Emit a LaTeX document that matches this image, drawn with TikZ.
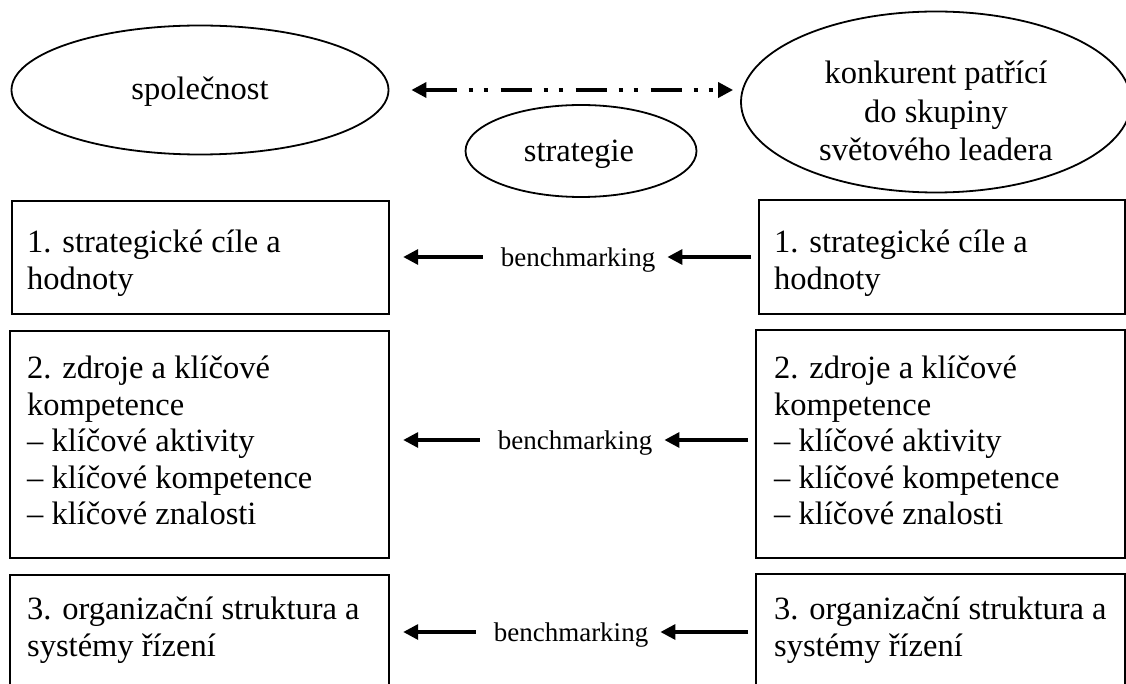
\documentclass[tikz,border=0pt]{standalone}
\usepackage{fontspec}
\setmainfont{Liberation Serif}
\usetikzlibrary{arrows.meta,shapes.geometric}
\begin{document}
\begin{tikzpicture}[x=1pt,y=-1pt,
  ell/.style={draw, ellipse, line width=1.8pt, inner sep=0pt},
  box/.style={draw, rectangle, line width=2.2pt, inner sep=0pt, anchor=north west},
  txt/.style={anchor=north west, inner sep=0pt, align=left, font=\fontsize{32.5}{36.5}\selectfont},
  etxt/.style={inner sep=0pt, align=center, font=\fontsize{32.5}{38.5}\selectfont},
  bm/.style={inner sep=0pt, text depth=0pt, font=\fontsize{27}{30}\selectfont},
  barrow/.style={line width=3.3pt, -{Triangle[length=15pt,width=15pt]}},
  leftarrow/.style={barrow, shorten <=18pt, shorten >=13pt},
  rightarrow/.style={barrow, shorten <=7pt, shorten >=12pt},
  dd/.style={line width=3.5pt, {Triangle[length=15pt,width=15pt]}-{Triangle[length=15pt,width=15pt]},
    dash pattern=on 31pt off 12pt on 4pt off 11pt on 4pt off 13pt}
]
\useasboundingbox (0,0) rectangle (1126,684);
\clip (0,0) rectangle (1126,684);

% ellipses
\node[ell, minimum width=377pt, minimum height=129pt] (L0) at (200,90) {};
\node[etxt, anchor=base] (L0t) at (200,100) {společnost};
\node[ell, minimum width=231pt, minimum height=92pt] (S0) at (581,151) {};
\node[etxt, anchor=base] (S0t) at (579,162) {strategie};
\node[ell, minimum width=390pt, minimum height=181pt] (R0) at (936,102) {};
\node[etxt, anchor=north] (R0t) at (936,61) {konkurent patřící\\do skupiny\\světového leadera};

\draw[dd, shorten <=22pt, shorten >=7pt] (L0.east) -- (L0.east -| R0.west);

% boxes
\node[box, minimum width=377pt, minimum height=113pt] (L1) at (11,200) {};
\node[box, minimum width=366pt, minimum height=114pt] (R1) at (758,199) {};
\node[box, minimum width=379pt, minimum height=227pt] (L2) at (9,330) {};
\node[box, minimum width=369pt, minimum height=228pt] (R2) at (755,329) {};
\node[box, minimum width=379pt, minimum height=140pt] (L3) at (9,574) {};
\node[box, minimum width=369pt, minimum height=140pt] (R3) at (755,573) {};

\node[txt] (L1t) at (27,230) {1. strategické cíle a\\hodnoty};
\node[txt] (R1t) at (774,230) {1. strategické cíle a\\hodnoty};
\node[txt] (L2t) at (27,356) {2. zdroje a klíčové\\kompetence\\– klíčové aktivity\\– klíčové kompetence\\– klíčové znalosti};
\node[txt] (R2t) at (774,356) {2. zdroje a klíčové\\kompetence\\– klíčové aktivity\\– klíčové kompetence\\– klíčové znalosti};
\node[txt] (L3t) at (27,597) {3. organizační struktura a\\systémy řízení};
\node[txt] (R3t) at (774,597) {3. organizační struktura a\\systémy řízení};

% benchmarking
\node[bm] (b1) at (578,257) {benchmarking};
\node[bm] (b2) at (575,440) {benchmarking};
\node[bm] (b3) at (571,632) {benchmarking};

\draw[leftarrow] (b1.west) -- (b1.west -| L1.east);
\draw[rightarrow] (b1.west -| R1.west) -- (b1.east);
\draw[leftarrow] (b2.west) -- (b2.west -| L2.east);
\draw[rightarrow] (b2.west -| R2.west) -- (b2.east);
\draw[leftarrow] (b3.west) -- (b3.west -| L3.east);
\draw[rightarrow] (b3.west -| R3.west) -- (b3.east);
\end{tikzpicture}
\end{document}
